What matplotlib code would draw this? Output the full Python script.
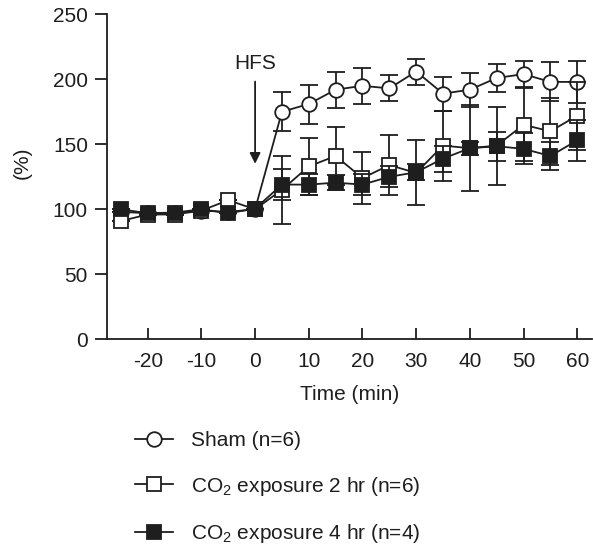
import numpy as np
import matplotlib.pyplot as plt
from matplotlib.lines import Line2D

plt.rcParams['font.family'] = ['Liberation Sans', 'DejaVu Sans']
plt.rcParams['mathtext.fontset'] = 'custom'
plt.rcParams['mathtext.rm'] = 'Liberation Sans'
plt.rcParams['mathtext.it'] = 'Liberation Sans:italic'
plt.rcParams['axes.unicode_minus'] = False

time = [-25, -20, -15, -10, -5, 0, 5, 10, 15, 20, 25, 30, 35, 40, 45, 50, 55, 60]

sham = [98, 97, 97, 99, 98, 100, 175, 181, 192, 195, 193, 206, 189, 192, 201, 204, 198, 198]
sham_err = [0, 0, 0, 0, 0, 0, 15, 15, 14, 14, 10, 10, 13, 13, 11, 10, 15, 16]

co2_2hr = [91, 96, 96, 99, 107, 100, 115, 133, 141, 124, 134, 128, 149, 147, 149, 165, 160, 172]
co2_2hr_err = [0, 0, 0, 0, 0, 0, 26, 22, 22, 20, 23, 25, 27, 33, 30, 28, 26, 26]

co2_4hr = [100, 97, 97.5, 100, 97, 100.5, 119, 119, 120.5, 119, 125, 128.5, 139, 147, 148.5, 146.5, 141, 153]
co2_4hr_err = [0, 0, 0, 0, 0, 0, 12, 8, 6, 8, 8, 6, 10, 5, 11, 12, 11, 16]

labels = ['Sham (n=6)', 'CO$_2$ exposure 2 hr (n=6)', 'CO$_2$ exposure 4 hr (n=4)']

W, H = 593, 548
fig = plt.figure(figsize=(W / 100, H / 100), dpi=100)
ax = fig.add_axes([106.7 / W, 1 - 339.3 / H, 485 / W, 325 / H])

ink = '#1e1e1e'
series = [
    (sham, sham_err, 'o', 'white'),
    (co2_2hr, co2_2hr_err, 's', 'white'),
    (co2_4hr, co2_4hr_err, 's', ink),
]
handles = []
for i, (y, err, m, fc) in enumerate(series):
    z = 3 + 2 * i
    ax.errorbar(time, y, yerr=err, fmt='none', ecolor=ink, elinewidth=1.3,
                capsize=6.5, capthick=1.3, zorder=z)
    ax.plot(time, y, color=ink, lw=1.3, marker=m, ms=10.5, mfc=fc,
            mec=ink, mew=1.3, zorder=z + 1)
    handles.append(Line2D([], [], color=ink, lw=1.3, marker=m, ms=10.5,
                          mfc=fc, mec=ink, mew=1.3))

ax.set_xlim(-27.64, 62.7)
ax.set_ylim(0, 250)
ax.set_xticks(range(-20, 61, 10))
ax.set_yticks(range(0, 251, 50))
for s in ['top', 'right']:
    ax.spines[s].set_visible(False)
for s in ['left', 'bottom']:
    ax.spines[s].set_linewidth(1.3)
    ax.spines[s].set_color(ink)
ax.tick_params(axis='x', direction='in', length=8, width=1.3, pad=9, labelsize=15, colors=ink)
ax.tick_params(axis='y', direction='out', length=8.5, width=1.3, pad=5, labelsize=15, colors=ink)

ax.annotate('HFS', xy=(0, 135), xytext=(0, 212.5), ha='center', va='center',
            fontsize=15, color=ink,
            arrowprops=dict(arrowstyle='-|>', color=ink, lw=1.3,
                            mutation_scale=16, shrinkA=4.5, shrinkB=0))

fig.text(22 / W, 1 - 163 / H, '(%)', rotation=90, ha='center', va='center',
         fontsize=15, color=ink)
fig.text(350 / W, 1 - 395 / H, 'Time (min)', ha='center', va='center',
         fontsize=15, color=ink)

fig.legend(handles, labels, loc='upper left', bbox_to_anchor=(135 / W, 1 - 431 / H),
           frameon=False, fontsize=15, handlelength=1.8, handletextpad=0.9,
           labelspacing=1.18, borderpad=0, borderaxespad=0, labelcolor=ink)

fig.savefig('out.png', dpi=100)
